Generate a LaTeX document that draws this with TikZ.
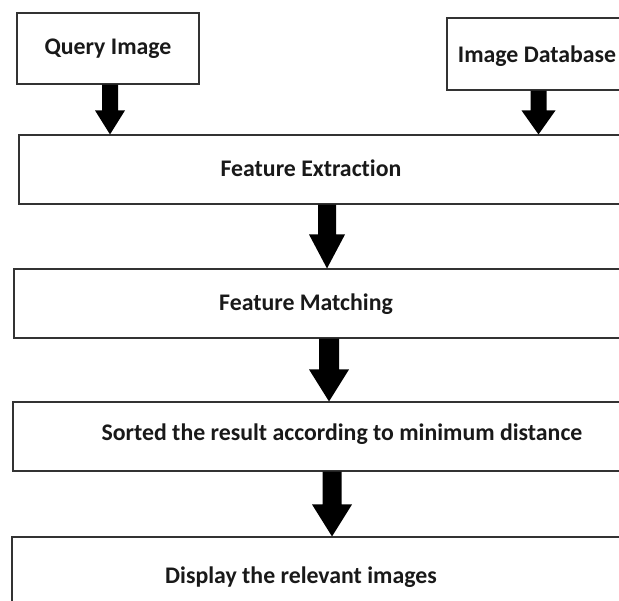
\documentclass[tikz,border=0pt]{standalone}
\usepackage{fontspec}
\setmainfont[Ligatures=NoCommon]{Carlito}
\usetikzlibrary{calc}
\tikzset{
  box/.style={draw=black!80, line width=1.1pt, fill=white, inner sep=0pt},
  lbl/.style={font=\bfseries\fontsize{23.8}{27}\selectfont, text=black!90, inner sep=0pt},
  blockarrow/.style n args={3}{fill=black, to path={
    let \p1=(\tikztostart), \p2=(\tikztotarget) in
    ({\x1-#1pt},\y1) -- ({\x1+#1pt},\y1) -- ({\x1+#1pt},{\y2+#3pt}) --
    ({\x1+#2pt},{\y2+#3pt}) -- (\x1,\y2) -- ({\x1-#2pt},{\y2+#3pt}) --
    ({\x1-#1pt},{\y2+#3pt}) -- cycle}}
}
\begin{document}
\begin{tikzpicture}[x=1pt,y=-1pt]
\useasboundingbox (0,0) rectangle (619,601);
\clip (0,0) rectangle (619,601);
\fill[white] (0,0) rectangle (619,601);
% boxes
\node[box, minimum width=182pt, minimum height=71pt, lbl] (q) at (108,48.5) {Query Image};
\node[box, minimum width=183pt, minimum height=72pt] (db) at (538.5,54) {};
\node[lbl] (dbt) at (537,56) {Image Database};
\node[box, minimum width=621pt, minimum height=69pt] (fe) at (329.5,169.5) {};
\node[lbl] (fet) at (311,168) {Feature Extraction};
\node[box, minimum width=626pt, minimum height=69pt] (fm) at (327,303.5) {};
\node[lbl] (fmt) at (306,304) {Feature Matching};
\node[box, minimum width=627pt, minimum height=69pt] (st) at (326.5,436.5) {};
\node[lbl] (stt) at (342,434) {Sorted the result according to minimum distance};
\node[box, minimum width=628pt, minimum height=83pt] (dp) at (326,578.5) {};
\node[lbl] (dpt) at (301,577) {Display the relevant images};
% arrows
\path[blockarrow={8}{15}{24}] ([xshift=2pt]q.south) to ([xshift=2pt]q.south |- fe.north);
\path[blockarrow={8}{17}{24}] (db.south) to (db.south |- fe.north);
\path[blockarrow={9}{18}{34}] (fe.south -| 327,0) to (fm.north -| 327,0);
\path[blockarrow={10}{20}{32}] (fm.south -| 329,0) to (st.north -| 329,0);
\path[blockarrow={9.5}{20}{32}] (st.south -| 332,0) to (dp.north -| 332,0);
\end{tikzpicture}
\end{document}
